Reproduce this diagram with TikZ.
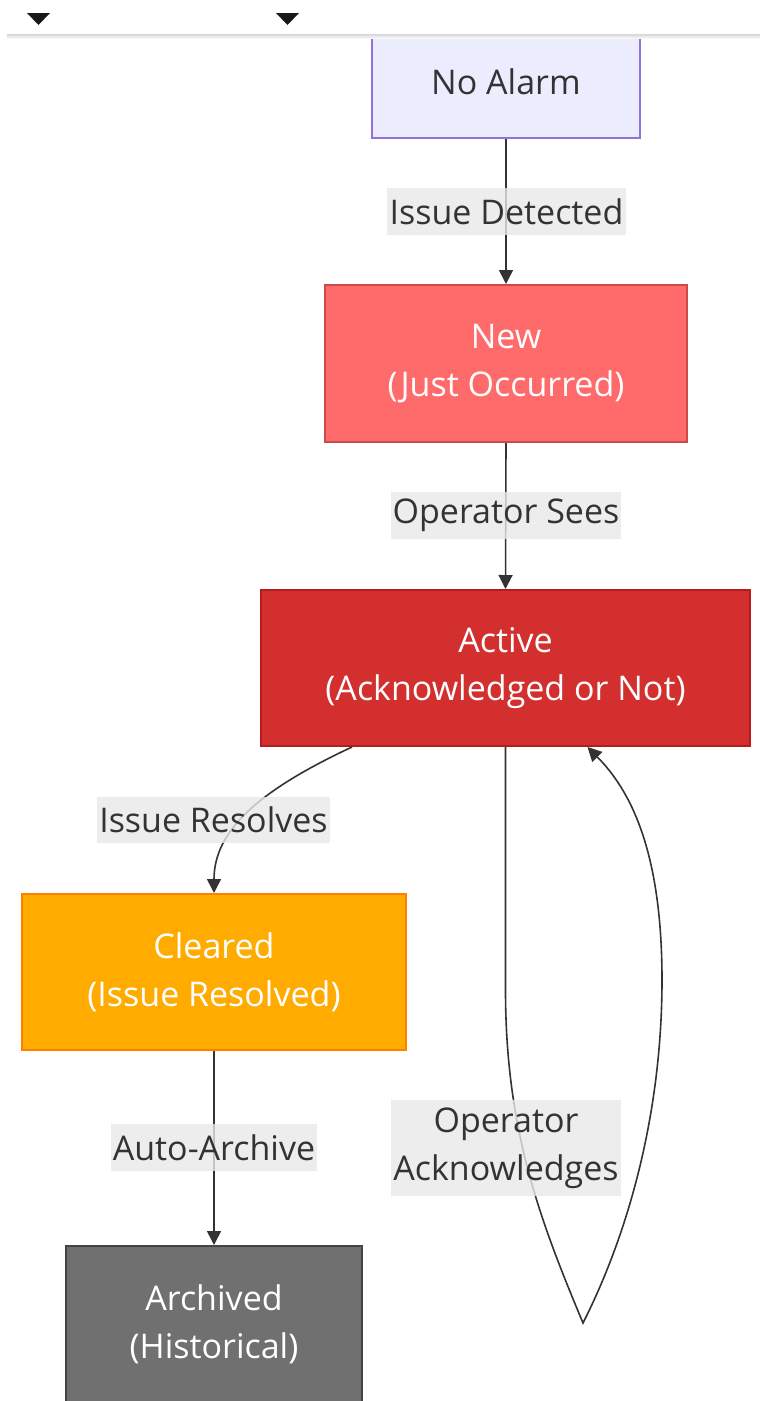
\documentclass[tikz,border=0pt]{standalone}
\usepackage{fontspec}
\setmainfont{Open Sans}
\usetikzlibrary{arrows.meta}
\definecolor{ink}{HTML}{333333}
\definecolor{lblbg}{HTML}{E8E8E8}
\definecolor{idlefill}{HTML}{ECECFF}
\definecolor{idleline}{HTML}{9370DB}
\definecolor{newfill}{HTML}{FF6B6B}
\definecolor{newline}{HTML}{CC4A4A}
\definecolor{actfill}{HTML}{D32F2F}
\definecolor{actline}{HTML}{B71C1C}
\definecolor{clrfill}{HTML}{FFAB00}
\definecolor{clrline}{HTML}{FF8000}
\definecolor{arcfill}{HTML}{707070}
\definecolor{arcline}{HTML}{444444}
\begin{document}
\begin{tikzpicture}[x=1pt,y=-1pt,
  txt/.style={font=\fontsize{34}{48}\selectfont},
  state/.style={txt, rectangle, draw, line width=2pt, align=center, inner sep=0pt},
  edgelabel/.style={txt, text=ink, fill=lblbg, fill opacity=0.8, text opacity=1,
    align=center, inner sep=0pt},
  edge/.style={draw=ink, line width=1.6pt, -{Triangle[length=14pt,width=14pt]}}
]
\useasboundingbox (0,0) rectangle (760,1401);
\clip (0,0) rectangle (760,1401);

% states
\node[state, fill=idlefill, draw=idleline, text=ink, minimum width=268pt, minimum height=112pt]
  (noalarm) at (506,82) {No Alarm};
\node[state, fill=newfill, draw=newline, text=white, minimum width=362pt, minimum height=157pt]
  (new) at (506,363.5) {New\\(Just Occurred)};
\node[state, fill=actfill, draw=actline, text=white, minimum width=489pt, minimum height=156pt]
  (active) at (505.5,668) {Active\\(Acknowledged or Not)};
\node[state, fill=clrfill, draw=clrline, text=white, minimum width=384pt, minimum height=156pt]
  (cleared) at (214,972) {Cleared\\(Issue Resolved)};
\node[state, fill=arcfill, draw=arcline, text=white, minimum width=296pt, minimum height=156pt]
  (archived) at (214,1324) {Archived\\(Historical)};

% transitions
\draw[edge] (noalarm.south) -- (new.north);
\draw[edge] (new.south) -- (active.north);
\draw[edge] ([xshift=-153.5pt]active.south) .. controls (260,790) and (214,830) .. (cleared.north);
\draw[edge] (cleared.south) -- (archived.north);
\coordinate (loopv) at (583,1323);
\draw[edge] (active.south) -- (505.5,990)
  .. controls (505.5,1130) and (540,1220) .. (loopv)
  .. controls (630,1230) and (662,1110) .. (662,980)
  .. controls (662,850) and (630,790) .. ([xshift=82pt]active.south);

% transition labels
\node[edgelabel, minimum width=239pt, minimum height=47pt] (l1) at (506.5,211.5) {Issue Detected};
\node[edgelabel, minimum width=230pt, minimum height=47pt] (l2) at (506,515.5) {Operator Sees};
\node[edgelabel, minimum width=233pt, minimum height=46pt] (l3) at (213.5,820) {Issue Resolves};
\node[edgelabel, minimum width=206pt, minimum height=47pt] (l4) at (214,1147.5) {Auto-Archive};
\node[edgelabel, minimum width=230pt, minimum height=96pt] (l5) at (506,1148) {Operator\\Acknowledges};

% header strip with its shadow and toggles
\fill[white] (0,0) rectangle (760,34);
\shade[top color=black!16, bottom color=black!3] (7,34) rectangle (760,38);
\fill[black!90] (27,13) -- (50,13) -- (38.5,25) -- cycle;
\fill[black!90] (276,13) -- (299,13) -- (287.5,25) -- cycle;
\end{tikzpicture}
\end{document}
